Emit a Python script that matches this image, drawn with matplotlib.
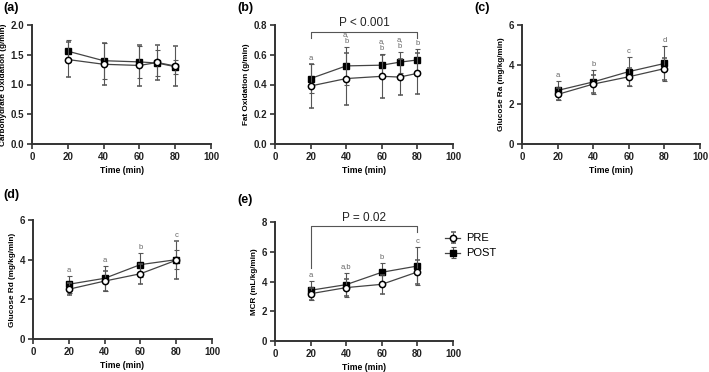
import matplotlib
matplotlib.use("Agg")
import matplotlib.pyplot as plt

plt.rcParams['font.family'] = ['Liberation Sans', 'DejaVu Sans']

# time points
t5 = [20, 40, 60, 70, 80]
t4 = [20, 40, 60, 80]

# (a) carbohydrate oxidation
cho_pre = [1.42, 1.34, 1.32, 1.37, 1.31]
cho_pre_sd = [0.29, 0.35, 0.34, 0.29, 0.34]
cho_post = [1.56, 1.40, 1.38, 1.36, 1.30]
cho_post_sd = [0.19, 0.30, 0.27, 0.22, 0.12]

# (b) fat oxidation
fat_pre = [0.39, 0.44, 0.455, 0.45, 0.475]
fat_pre_sd = [0.15, 0.175, 0.145, 0.12, 0.14]
fat_post = [0.44, 0.525, 0.53, 0.55, 0.565]
fat_post_sd = [0.10, 0.13, 0.075, 0.07, 0.075]
fat_letters = ['a', 'a,\nb', 'a,\nb', 'a,\nb', 'b']

# (c) glucose Ra
ra_pre = [2.50, 3.02, 3.39, 3.80]
ra_pre_sd = [0.30, 0.45, 0.45, 0.55]
ra_post = [2.70, 3.13, 3.65, 4.06]
ra_post_sd = [0.48, 0.62, 0.74, 0.87]
ra_letters = ['a', 'b', 'c', 'd']

# (d) glucose Rd
rd_pre = [2.51, 2.92, 3.29, 3.97]
rd_pre_sd = [0.30, 0.50, 0.50, 0.95]
rd_post = [2.76, 3.06, 3.75, 4.00]
rd_post_sd = [0.42, 0.63, 0.60, 0.47]
rd_letters = ['a', 'a', 'b', 'c']

# (e) MCR
mcr_pre = [3.18, 3.59, 3.81, 4.64]
mcr_pre_sd = [0.40, 0.55, 0.63, 0.81]
mcr_post = [3.41, 3.79, 4.62, 5.04]
mcr_post_sd = [0.63, 0.80, 0.63, 1.28]
mcr_letters = ['a', 'a,b', 'b', 'c']

fig = plt.figure(figsize=(7.09, 3.72), dpi=100)

axc = '#333333'
errc = '#555555'


def panel(rect, x, pre, pre_sd, post, post_sd, ymax, ystep, ylabel):
    ax = fig.add_axes(rect)
    ax.errorbar(x, post, yerr=post_sd, color='#444444', lw=0.9, ecolor=errc,
                elinewidth=0.8, capsize=1.8, capthick=0.8, marker='s', ms=3.8,
                mfc='black', mec='black', zorder=3, label='POST')
    ax.errorbar(x, pre, yerr=pre_sd, color='#444444', lw=0.9, ecolor=errc,
                elinewidth=0.8, capsize=1.8, capthick=0.8, marker='o', ms=4.5,
                mfc='white', mec='black', mew=1.1, zorder=4, label='PRE')
    ax.set_xlim(0, 100)
    ax.set_ylim(0, ymax)
    ax.set_xticks([0, 20, 40, 60, 80, 100])
    yt = [round(i * ystep, 2) for i in range(int(round(ymax / ystep)) + 1)]
    ax.set_yticks(yt)
    if ystep < 1:
        ax.set_yticklabels(['%.1f' % v for v in yt])
    for s in ['top', 'right']:
        ax.spines[s].set_visible(False)
    for s in ['left', 'bottom']:
        ax.spines[s].set_color(axc)
        ax.spines[s].set_linewidth(1.4)
    ax.tick_params(direction='out', length=3.5, width=1.2, color=axc,
                   labelsize=7, pad=2)
    for lab in ax.get_xticklabels() + ax.get_yticklabels():
        lab.set_fontweight('bold')
        lab.set_color('#222222')
    ax.set_xlabel('Time (min)', fontsize=6.2, fontweight='bold', labelpad=3)
    ax.set_ylabel(ylabel, fontsize=5.9, fontweight='bold', labelpad=2.5)
    return ax


h = 119 / 372
ax_a = panel([32 / 709, 1 - 144 / 372, 179 / 709, h], t5, cho_pre, cho_pre_sd,
             cho_post, cho_post_sd, 2.0, 0.5, 'Carbohydrate Oxidation (g/min)')
ax_b = panel([275 / 709, 1 - 144 / 372, 178 / 709, h], t5, fat_pre, fat_pre_sd,
             fat_post, fat_post_sd, 0.8, 0.2, 'Fat Oxidation (g/min)')
ax_c = panel([522 / 709, 1 - 144 / 372, 178 / 709, h], t4, ra_pre, ra_pre_sd,
             ra_post, ra_post_sd, 6, 2, 'Glucose Ra (mg/kg/min)')
ax_d = panel([33 / 709, 1 - 339 / 372, 179 / 709, h], t4, rd_pre, rd_pre_sd,
             rd_post, rd_post_sd, 6, 2, 'Glucose Rd (mg/kg/min)')
ax_e = panel([275 / 709, 1 - 341 / 372, 178 / 709, h], t4, mcr_pre, mcr_pre_sd,
             mcr_post, mcr_post_sd, 8, 2, 'MCR (mL/kg/min)')


def letters(ax, x, pre, pre_sd, post, post_sd, labs, off):
    for xi, a, asd, b, bsd, lab in zip(x, pre, pre_sd, post, post_sd, labs):
        top = max(a + asd, b + bsd)
        ax.text(xi, top + off, lab, ha='center', va='bottom', fontsize=5.5,
                color='#666666', linespacing=1.0)


letters(ax_b, t5, fat_pre, fat_pre_sd, fat_post, fat_post_sd, fat_letters, 0.012)
letters(ax_c, t4, ra_pre, ra_pre_sd, ra_post, ra_post_sd, ra_letters, 0.1)
letters(ax_d, t4, rd_pre, rd_pre_sd, rd_post, rd_post_sd, rd_letters, 0.1)
letters(ax_e, t4, mcr_pre, mcr_pre_sd, mcr_post, mcr_post_sd, mcr_letters, 0.15)

# significance brackets
ax_b.plot([20, 20, 80, 80], [0.71, 0.755, 0.755, 0.71], color='#555555', lw=0.8,
          clip_on=False)
ax_b.text(50, 0.77, 'P < 0.001', ha='center', va='bottom', fontsize=8.5, color='#222222')
ax_e.plot([20, 20, 80, 80], [4.9, 7.72, 7.72, 7.3], color='#555555', lw=0.8,
          clip_on=False)
ax_e.text(50, 7.85, 'P = 0.02', ha='center', va='bottom', fontsize=8.5, color='#222222')

# panel labels
for lab, x, y in [('(a)', 3, 8), ('(b)', 237, 8), ('(c)', 474, 8),
                  ('(d)', 3, 195), ('(e)', 237, 200)]:
    fig.text(x / 709, 1 - y / 372, lab, fontsize=9, fontweight='bold',
             ha='left', va='center')

# legend
handles, labels = ax_e.get_legend_handles_labels()
fig.legend(handles[::-1], labels[::-1], loc='upper left',
           bbox_to_anchor=(441 / 709, 1 - 229 / 372), frameon=False,
           fontsize=8, handlelength=1.3, handletextpad=0.6, labelspacing=0.45,
           borderaxespad=0)

fig.savefig('out.png', dpi=100)
